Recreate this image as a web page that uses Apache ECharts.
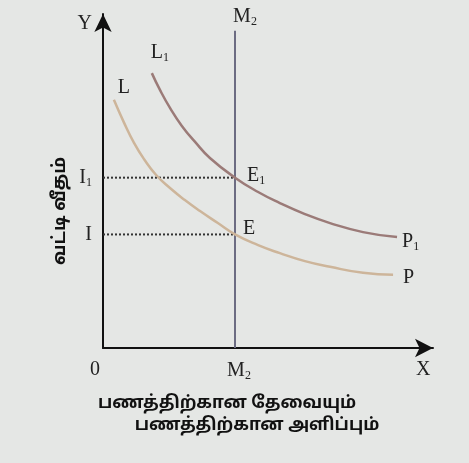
<!DOCTYPE html>
<html>
<head>
<meta charset="utf-8">
<script src="https://cdn.jsdelivr.net/npm/echarts@6/dist/echarts.min.js"></script>
<style>
  html, body { margin: 0; padding: 0; background: #e5e7e5; }
  #main { width: 469px; height: 463px; }
</style>
</head>
<body>
<div id="main"></div>
<script>
// money supply (vertical line) and the two interest rates
const moneySupply = 40;
const m2Top = 95;
const rateI = 34;
const rateI1 = 51;

// liquidity preference curves
const curveL = [[3.3, 74.3], [6.4, 67.4], [9.4, 61.4], [12.4, 56.6], [16.1, 51.8], [20.3, 47.9], [24.8, 44.3], [29.4, 41.0],
    [34.8, 37.4], [40, 34], [47, 30.8], [53.6, 28.4], [61.2, 26.0], [68.8, 24.3], [78.8, 22.5], [87.9, 21.9]];
const curveL1 = [[14.8, 82.3], [17.3, 77.2], [20.3, 71.9], [23.9, 66.5], [27.9, 61.7], [32.4, 56.9], [40, 51],
    [47, 46.7], [53.6, 43.4], [61.2, 40.1], [68.8, 37.4], [78.8, 34.7], [89.1, 33.2]];

// tick labels: [main, subscript]
const xTicks = [0, 40, 97];
const xTickLabels = [['0', ''], ['M', '2'], ['X', '']];
const yTicks = [34, 51, 97];
const yTickLabels = [['I', ''], ['I', '1'], ['Y', '']];

const yName = 'வட்டி வீதம்';
const xNameLines = ['பணத்திற்கான தேவையும்', 'பணத்திற்கான அளிப்பும்'];

const serif = '"Liberation Serif", "DejaVu Serif", serif';
const tamil = '"Noto Sans Tamil", "Lohit Tamil", "Noto Sans", sans-serif';

const rich = {
    m: {fontFamily: serif, fontSize: 20, color: '#222'},
    s: {fontFamily: serif, fontSize: 12, color: '#222', padding: [10, 0, 0, 0]},
    z: {fontFamily: serif, fontSize: 20, color: '#222', padding: [0, 16, 0, 0]},
    mb: {fontFamily: serif, fontSize: 20, color: '#222', padding: [0, 0, 0, 8]}
};

const sub = (main, s, style = 'm') => s ? `{${style}|${main}}{s|${s}}` : `{${style}|${main}}`;

function curveData(points, startName, startSub, endName, endSub, startOffset, endOffset) {
    return points.map((p, i) => {
        if (i === 0) {
            return {value: p, label: {show: true, position: 'top', offset: startOffset,
                formatter: sub(startName, startSub), rich}};
        }
        if (i === points.length - 1) {
            return {value: p, label: {show: true, position: 'right', offset: endOffset,
                formatter: sub(endName, endSub), rich}};
        }
        return p;
    });
}

const hiddenSymbol = {symbol: 'circle', symbolSize: 0, showSymbol: true, showAllSymbol: true};

const chart = echarts.init(document.getElementById('main'));
chart.setOption({
    backgroundColor: '#e5e7e5',
    animation: false,
    grid: {left: 103, right: 36, top: 14, bottom: 115},
    xAxis: {
        type: 'value', min: 0, max: 100,
        axisLine: {lineStyle: {color: '#111', width: 2}, symbol: ['none', 'arrow'], symbolSize: [14, 18]},
        axisTick: {show: false},
        splitLine: {show: false},
        axisLabel: {
            customValues: xTicks, margin: 12, rich,
            formatter: v => {
                const i = xTicks.indexOf(v);
                if (i < 0) return '';
                if (i === 0) return `{z|${xTickLabels[i][0]}}`;
                return sub(xTickLabels[i][0], xTickLabels[i][1], xTickLabels[i][1] ? 'mb' : 'm');
            }
        }
    },
    yAxis: {
        type: 'value', min: 0, max: 100,
        axisLine: {lineStyle: {color: '#111', width: 2}, symbol: ['none', 'arrow'], symbolSize: [13, 18]},
        axisTick: {show: false},
        splitLine: {show: false},
        axisLabel: {
            customValues: yTicks, margin: 11, rich,
            formatter: v => {
                const i = yTicks.indexOf(v);
                return i < 0 ? '' : sub(yTickLabels[i][0], yTickLabels[i][1]);
            }
        }
    },
    series: [
        {
            type: 'line', symbol: 'none', z: 1,
            lineStyle: {type: 'dotted', color: '#333', width: 2},
            data: [[0, rateI1], [moneySupply, rateI1]]
        },
        {
            type: 'line', symbol: 'none', z: 1,
            lineStyle: {type: 'dotted', color: '#333', width: 2},
            data: [[0, rateI], [moneySupply, rateI]]
        },
        {
            type: 'line', ...hiddenSymbol, z: 2,
            lineStyle: {color: '#6c6c82', width: 2},
            data: [
                [moneySupply, 0],
                {value: [moneySupply, rateI], label: {show: true, position: 'right', offset: [3, -6], formatter: sub('E', ''), rich}},
                {value: [moneySupply, rateI1], label: {show: true, position: 'right', offset: [7, -2], formatter: sub('E', '1'), rich}},
                {value: [moneySupply, m2Top], label: {show: true, position: 'top', offset: [10, 2], formatter: sub('M', '2'), rich}}
            ]
        },
        {
            type: 'line', ...hiddenSymbol, smooth: true, z: 3,
            lineStyle: {color: '#cdb59a', width: 2.5},
            data: curveData(curveL, 'L', '', 'P', '', [10, 3], [5, 3])
        },
        {
            type: 'line', ...hiddenSymbol, smooth: true, z: 3,
            lineStyle: {color: '#9b7b78', width: 2.5},
            data: curveData(curveL1, 'L', '1', 'P', '1', [8, -4], [0, 5])
        }
    ],
    graphic: [
        {
            type: 'text', x: 61, y: 211, rotation: Math.PI / 2,
            style: {text: yName, align: 'center', verticalAlign: 'middle', fill: '#111',
                font: `bold 18px ${tamil}`}
        },
        {
            type: 'text', x: 227, y: 405,
            style: {text: xNameLines[0], align: 'center', verticalAlign: 'middle', fill: '#111',
                font: `bold 17.2px ${tamil}`}
        },
        {
            type: 'text', x: 257, y: 427,
            style: {text: xNameLines[1], align: 'center', verticalAlign: 'middle', fill: '#111',
                font: `bold 17.2px ${tamil}`}
        }
    ]
});
</script>
</body>
</html>
